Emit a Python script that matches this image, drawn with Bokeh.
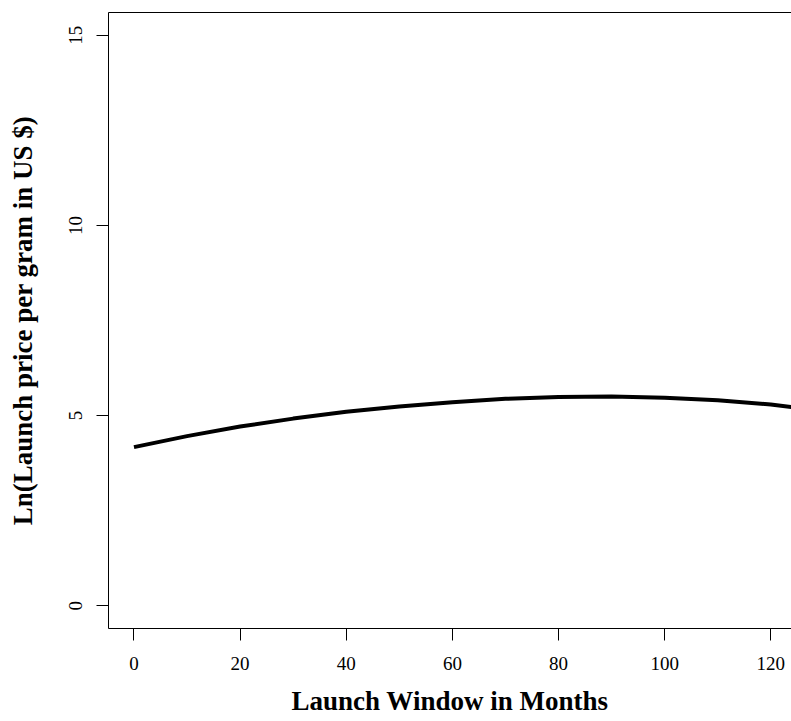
from bokeh.plotting import figure
from bokeh.models import LinearAxis, FixedTicker, Range1d, ColumnDataSource
from bokeh.embed import file_html
from bokeh.resources import INLINE

# Data
months = [0, 10, 20, 30, 40, 50, 60, 70, 80, 90, 100, 110, 120, 124]
ln_price = [4.17, 4.46, 4.71, 4.92, 5.10, 5.24, 5.35, 5.44, 5.49, 5.50, 5.47, 5.40, 5.29, 5.22]

x_ticks = [0, 20, 40, 60, 80, 100, 120]
y_ticks = [0, 5, 10, 15]

FONT = "Liberation Serif"

p = figure(width=791, height=721, output_backend="svg", toolbar_location=None,
           x_range=Range1d(-4.8, 123.9), y_range=Range1d(-0.6, 15.6),
           min_border_left=108, min_border_right=0, min_border_top=12, min_border_bottom=93)
p.outline_line_color = None
p.xgrid.grid_line_color = None
p.ygrid.grid_line_color = None
p.background_fill_color = "white"
p.border_fill_color = "white"

src = ColumnDataSource(dict(x=months, y=ln_price))
p.line("x", "y", source=src, line_color="black", line_width=4)

for ax in (p.xaxis[0], p.yaxis[0]):
    ax.axis_line_color = "black"
    ax.axis_line_width = 1
    ax.major_tick_line_color = "black"
    ax.major_tick_out = 12
    ax.major_tick_in = 0
    ax.minor_tick_line_color = None
    ax.major_label_text_font = FONT
    ax.major_label_text_font_size = "19px"
    ax.major_label_text_color = "black"
    ax.axis_label_text_font = FONT
    ax.axis_label_text_font_size = "27px"
    ax.axis_label_text_font_style = "bold"
    ax.axis_label_text_color = "black"

p.xaxis[0].ticker = FixedTicker(ticks=x_ticks)
p.yaxis[0].ticker = FixedTicker(ticks=y_ticks)
p.xaxis[0].axis_label = "Launch Window in Months"
p.yaxis[0].axis_label = "Ln(Launch price per gram in US $)"
p.xaxis[0].major_label_standoff = 16
p.yaxis[0].major_label_standoff = 14
p.yaxis[0].major_label_orientation = "vertical"
p.xaxis[0].axis_label_standoff = 13
p.yaxis[0].axis_label_standoff = 29

top = LinearAxis(ticker=FixedTicker(ticks=[]), axis_line_color="black",
                 major_tick_line_color=None, minor_tick_line_color=None,
                 major_label_text_font_size="0px")
p.add_layout(top, "above")

open("out.html", "w").write(file_html(p, INLINE))
